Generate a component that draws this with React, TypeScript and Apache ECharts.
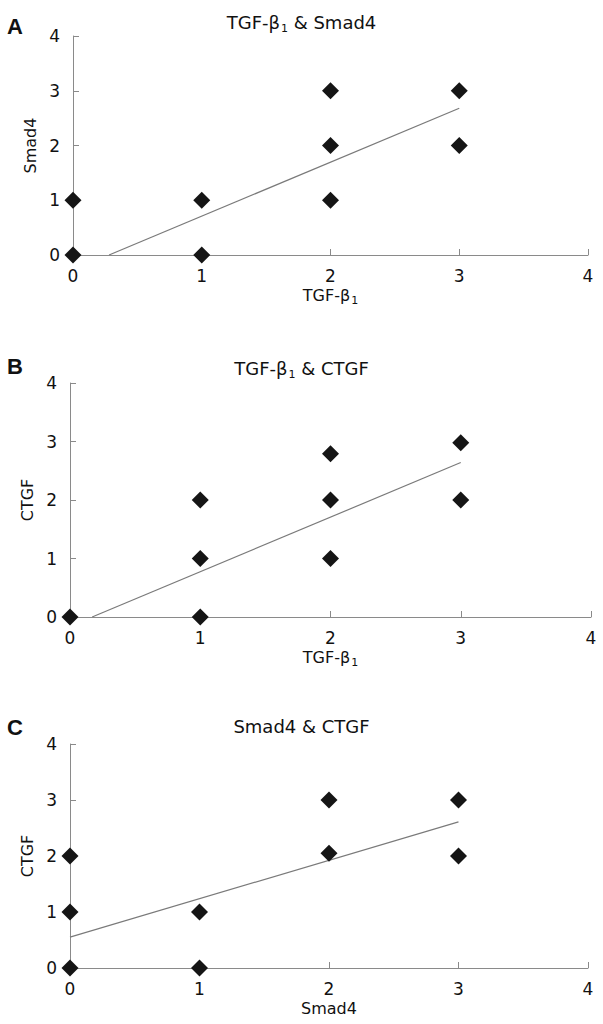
import React, { useEffect, useRef } from "react";
import * as echarts from "echarts";

// Panel A: TGF-β1 vs Smad4
const aX = [0, 0, 1, 1, 2, 2, 2, 3, 3];
const aY = [0, 1, 0, 1, 1, 2, 3, 2, 3];
const aTrendX = [0.28, 3];
const aTrendY = [0, 2.68];

// Panel B: TGF-β1 vs CTGF
const bX = [0, 1, 1, 1, 2, 2, 2, 3, 3];
const bY = [0, 0, 1, 2, 1, 2, 2.79, 2, 2.98];
const bTrendX = [0.17, 3];
const bTrendY = [0, 2.64];

// Panel C: Smad4 vs CTGF
const cX = [0, 0, 0, 1, 1, 2, 2, 3, 3];
const cY = [0, 1, 2, 0, 1, 2.05, 3, 2, 3];
const cTrendX = [0, 3];
const cTrendY = [0.55, 2.61];

const panelLetters = ["A", "B", "C"];
const panelTitles = ["TGF-β{sub|1} & Smad4", "TGF-β{sub|1} & CTGF", "Smad4 & CTGF"];
const xNames = ["TGF-β{sub|1}", "TGF-β{sub|1}", "Smad4"];
const yNames = ["Smad4", "CTGF", "CTGF"];
const axisMin = 0;
const axisMax = 4;
const axisStep = 1;

const FONT = '"DejaVu Sans", Verdana, sans-serif';
const AXIS_COLOR = "#8a8a8a";
const TEXT = "#111";
const subRich = { sub: { fontSize: 11, fontFamily: FONT, color: TEXT, verticalAlign: "bottom", padding: [0, 0, -3, 1] } };

const zip = (xs: number[], ys: number[]) => xs.map((x, i) => [x, ys[i]]);

const grids = [
  { left: 73, right: 15, top: 36, height: 219 },
  { left: 70, right: 12, top: 383, height: 234 },
  { left: 70, right: 15, top: 744, height: 224 },
];
const titleTops = [8, 354, 712];
const letterY = [26, 366, 727];
const yNameGaps = [32, 30, 29];

export default function App() {
  const ref = useRef<HTMLDivElement>(null);
  useEffect(() => {
    if (!ref.current) return;
    const chart = echarts.init(ref.current, null, { renderer: "svg" });
    const scatterSets = [zip(aX, aY), zip(bX, bY), zip(cX, cY)];
    const trendSets = [zip(aTrendX, aTrendY), zip(bTrendX, bTrendY), zip(cTrendX, cTrendY)];

    const xAxes = grids.map((_, i) => ({
      type: "value",
      gridIndex: i,
      min: axisMin,
      max: axisMax,
      interval: axisStep,
      name: xNames[i],
      nameLocation: "middle",
      nameGap: 32,
      nameTextStyle: { fontFamily: FONT, fontSize: 16, color: TEXT, rich: subRich },
      axisLine: { show: true, lineStyle: { color: AXIS_COLOR, width: 1 } },
      axisTick: { show: true, inside: true, length: 6, lineStyle: { color: AXIS_COLOR } },
      axisLabel: { fontFamily: FONT, fontSize: 17, color: TEXT, margin: 12 },
      splitLine: { show: false },
    }));
    const yAxes = grids.map((_, i) => ({
      type: "value",
      gridIndex: i,
      min: axisMin,
      max: axisMax,
      interval: axisStep,
      name: yNames[i],
      nameLocation: "middle",
      nameGap: yNameGaps[i],
      nameRotate: 90,
      nameTextStyle: { fontFamily: FONT, fontSize: 16, color: TEXT },
      axisLine: { show: true, lineStyle: { color: AXIS_COLOR, width: 1 } },
      axisTick: { show: true, inside: true, length: 6, lineStyle: { color: AXIS_COLOR } },
      axisLabel: { fontFamily: FONT, fontSize: 17, color: TEXT, margin: 13 },
      splitLine: { show: false },
    }));

    const series: any[] = [];
    grids.forEach((_, i) => {
      series.push({
        type: "line",
        xAxisIndex: i,
        yAxisIndex: i,
        data: trendSets[i],
        showSymbol: false,
        symbol: "none",
        lineStyle: { color: "#7a7a7a", width: 1.2 },
        z: 2,
      });
      series.push({
        type: "scatter",
        xAxisIndex: i,
        yAxisIndex: i,
        data: scatterSets[i],
        symbol: "diamond",
        symbolSize: 17,
        clip: false,
        itemStyle: { color: "#151515", opacity: 1 },
        z: 3,
      });
    });

    chart.setOption({
      animation: false,
      backgroundColor: "#ffffff",
      title: panelTitles.map((t, i) => ({
        text: t,
        left: "center",
        top: titleTops[i],
        textStyle: { fontFamily: FONT, fontSize: 18, fontWeight: "normal", color: TEXT, rich: subRich },
      })),
      grid: grids,
      xAxis: xAxes,
      yAxis: yAxes,
      series,
      graphic: panelLetters.map((l, i) => ({
        type: "text",
        x: 7,
        y: letterY[i],
        style: {
          text: l,
          fill: "#111",
          font: 'bold 22px "Liberation Sans", Arial, sans-serif',
          verticalAlign: "middle",
          align: "left",
        },
      })),
    });
    return () => chart.dispose();
  }, []);
  return (
    <div
      ref={ref}
      style={{ position: "absolute", left: 0, top: 0, width: 603, height: 1024 }}
    />
  );
}
